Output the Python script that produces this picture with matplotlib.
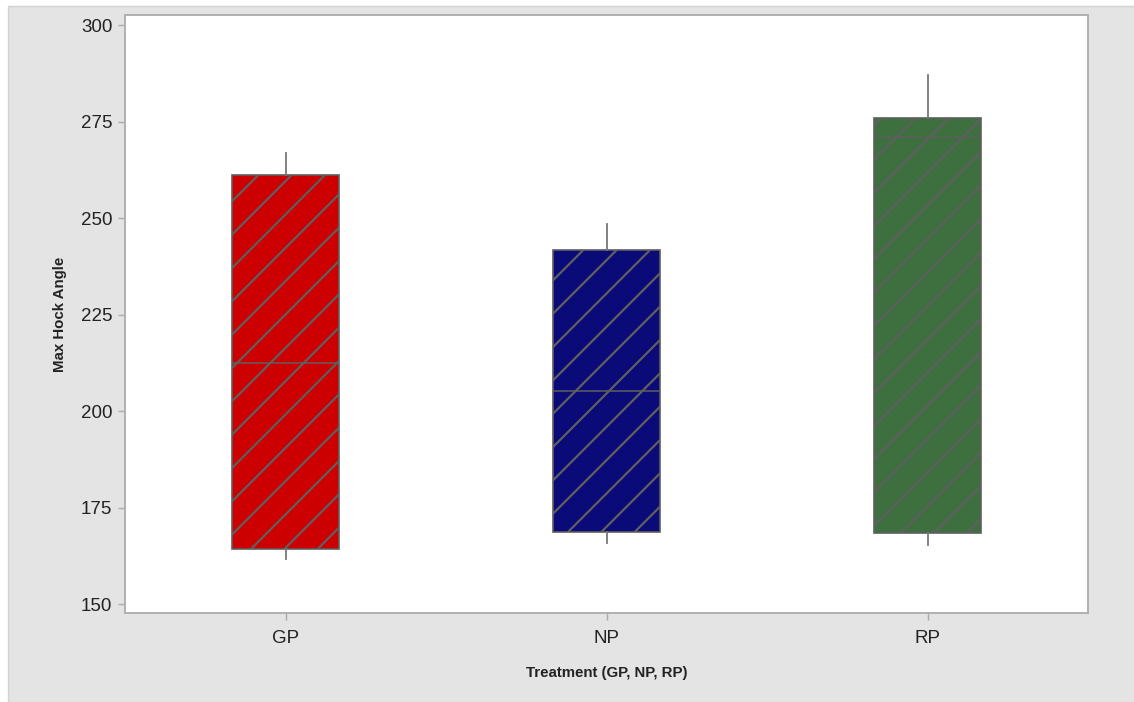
import matplotlib.pyplot as plt
from matplotlib.patches import Rectangle

treatments = ['GP', 'NP', 'RP']
whisker_low = [161.7, 165.8, 165.3]
q1 = [164.2, 168.7, 168.4]
medians = [212.4, 205.2, 271.0]
q3 = [261.1, 241.7, 275.9]
whisker_high = [266.8, 248.4, 287.0]
box_colors = ['#cc0000', '#0a0a78', '#3e703f']

plt.rcParams['font.family'] = ['Liberation Sans', 'DejaVu Sans']
plt.rcParams['hatch.linewidth'] = 1.6
plt.rcParams['hatch.color'] = '#5f5f5f'

fig = plt.figure(figsize=(11.34, 7.02), dpi=100, facecolor='white')
# grey panel behind the plot area
fig.patches.append(Rectangle((8 / 1134, 0), 1, 1 - 6 / 702, transform=fig.transFigure,
                             facecolor='#e4e4e4', edgecolor='#d2d2d2', lw=1, zorder=-1))
ax = fig.add_axes([125 / 1134, 1 - 613 / 702, 963 / 1134, 598 / 702])

stats = []
for name, lo, a, m, b, hi in zip(treatments, whisker_low, q1, medians, q3, whisker_high):
    stats.append(dict(label=name, whislo=lo, q1=a, med=m, q3=b, whishi=hi, fliers=[]))

bp = ax.bxp(stats, positions=[1, 2, 3], widths=0.333, patch_artist=True,
            showcaps=False, showfliers=False,
            boxprops=dict(edgecolor='#5f5f5f', linewidth=1.2),
            medianprops=dict(color='#5f5f5f', linewidth=1.1),
            whiskerprops=dict(color='#777777', linewidth=1.3))
for box, col in zip(bp['boxes'], box_colors):
    box.set_facecolor(col)
    box.set_hatch('/')

ax.set_xlim(0.5, 3.5)
ax.set_ylim(147.7, 302.6)
ax.set_yticks([150, 175, 200, 225, 250, 275, 300])
ax.tick_params(labelsize=13.5, length=5, width=1, color='#aaaaaa', labelcolor='#222222')
ax.tick_params(axis='x', pad=7)
ax.tick_params(axis='y', pad=4)

for s in ax.spines.values():
    s.set_color('#b0b0b0')
    s.set_linewidth(1.4)

ax.set_xlabel('Treatment (GP, NP, RP)', fontsize=10.8, fontweight='bold', color='#222222', labelpad=14)
ax.set_ylabel('Max Hock Angle', fontsize=10.8, fontweight='bold', color='#222222', labelpad=10)

fig.savefig('out.png', dpi=100)
